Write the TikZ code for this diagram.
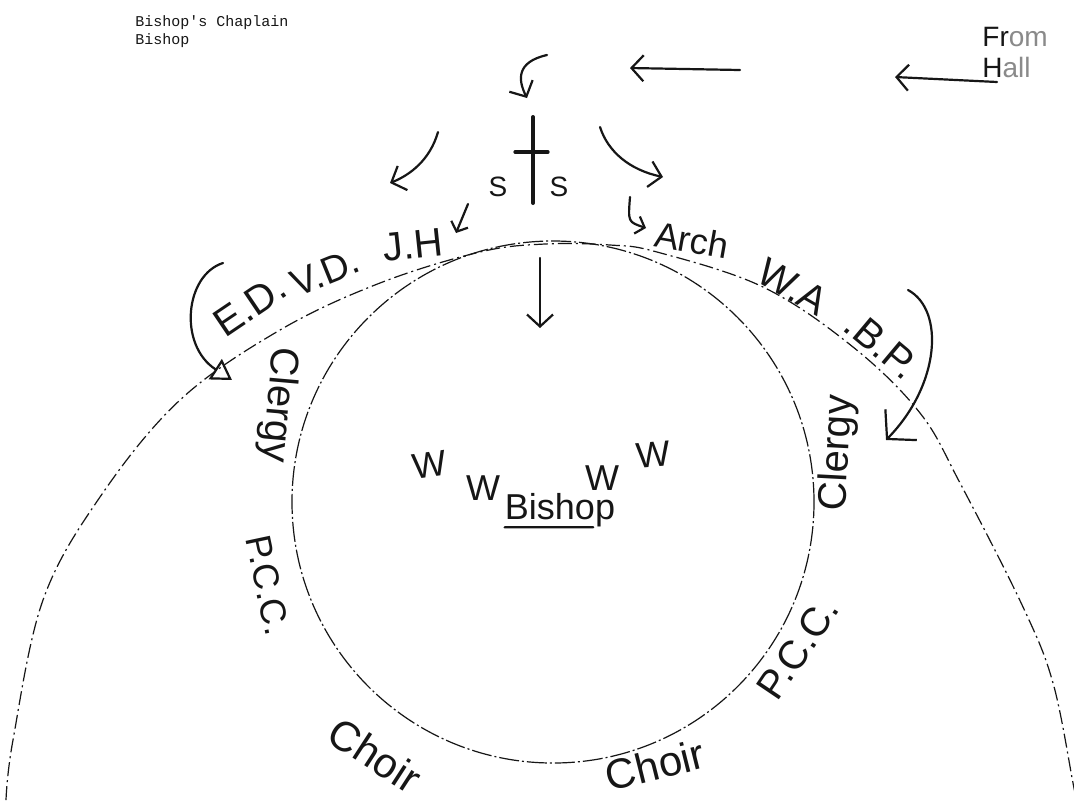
\documentclass[tikz,border=0pt]{standalone}
\usepackage{fontspec}
\setmainfont{Liberation Sans}
\newfontfamily\typerfont{Liberation Mono}
\usetikzlibrary{arrows.meta, positioning, calc}
\definecolor{ink}{HTML}{161616}
\definecolor{faint}{HTML}{8A8A8A}

\begin{document}
\begin{tikzpicture}[
  x=0.5pt, y=-0.5pt,
  >={Straight Barb[length=6pt, width=13pt]},
  pen/.style={line width=1.1pt, ink, line cap=round},
  arr/.style={->, pen},
]

% =============================================
% Styles -- hand lettering, typed lines, rings
% =============================================
\tikzset{
  hand/.style={font=\fontsize{#1}{#1}\selectfont, text=ink, inner sep=0pt},
  hand/.default=20,
  typed/.style={font=\typerfont\fontsize{7.5}{9}\selectfont, text=ink,
    inner sep=0pt, anchor=base west},
  ringline/.style={draw=ink, line width=0.6pt,
    dash pattern=on 10pt off 1.5pt on 1pt off 1.5pt},
  bigarr/.style={pen, -{Straight Barb[length=10pt, width=22pt]}},
}

% =============================================
% Page
% =============================================
\fill[white] (0,0) rectangle (1074,800);
\useasboundingbox (0,0) rectangle (1074,800);

% =============================================
% Typed heading
% =============================================
\node[typed] (chaplain) at (135,26) {Bishop's Chaplain};
\node[typed] (bishoptop) at (135,44) {Bishop};

% =============================================
% Coming in from the hall
% =============================================
\node[hand=14, anchor=west] (from) at (982,37) {Fr\textcolor{faint}{om}};
\node[hand=14, anchor=west] (hall) at (982,67) {H\textcolor{faint}{all}};

\coordinate (hall-tail) at (997,82);
\coordinate (hall-tip) at (895,77);
\draw[arr] (hall-tail) -- (hall-tip);

\coordinate (mid-tail) at (740,70);
\coordinate (mid-tip) at (630,68);
\draw[arr] (mid-tail) -- (mid-tip);

\coordinate (hook-tail) at (547,55);
\coordinate (hook-tip) at (527,98);
\draw[arr] (hook-tail) .. controls (516,62) and (518,80) .. (hook-tip);

% =============================================
% Cross with the two S
% =============================================
\draw[pen, line width=2pt] (533,117) -- (533,203);
\draw[pen, line width=1.6pt] (515,152) -- (548,152);
\node[hand=14] (sleft) at (498,187) {S};
\node[hand=14] (sright) at (559,187) {S};

% fanning out
\coordinate (fanl-tail) at (438,132);
\coordinate (fanl-tip) at (390,183);
\draw[arr] (fanl-tail) .. controls (430,160) and (410,175) .. (fanl-tip);

\coordinate (fanr-tail) at (600,127);
\coordinate (fanr-tip) at (663,177);
\draw[arr] (fanr-tail) .. controls (608,152) and (630,170) .. (fanr-tip);

\coordinate (jh-tail) at (468,204);
\coordinate (jh-tip) at (456,233);
\draw[->, pen, >={Straight Barb[length=4pt, width=9pt]}] (jh-tail) -- (jh-tip);

\coordinate (arch-tail) at (630,197);
\coordinate (arch-tip) at (646,228);
\draw[->, pen, >={Straight Barb[length=4pt, width=9pt]}]
  (arch-tail) .. controls (628,222) .. (arch-tip);

\coordinate (down-tail) at (540,258);
\coordinate (down-tip) at (540,328);
\draw[arr] (down-tail) -- (down-tip);

% =============================================
% Outer procession line
% =============================================
\draw[ringline, dash pattern=on 7pt off 2pt on 1pt off 2pt]
  plot[smooth, tension=0.6] coordinates {
    (6,800) (13,740) (43,600) (100,497) (180,400) (280,330) (380,283)
    (480,252) (545,244) (610,245) (657,252) (763,287) (853,347)
    (920,413) (960,483) (1023,607) (1053,683) (1073,783) (1076,800)};

\node[hand, rotate=34] (ed) at (250,305) {E.D.};
\node[hand=19, rotate=22] (vd) at (325,272) {V.D.};
\node[hand, rotate=6] (jh) at (413,245) {J.H};
\node[hand=18, rotate=-10] (arch) at (692,240) {Arch};
\node[hand, rotate=-30] (wa) at (793,287) {W.A};
\node[hand, rotate=-40] (bp) at (882,345) {.B.P.};

\coordinate (ed-tail) at (223,263);
\coordinate (ed-tip) at (232,380);
\draw[pen, -{Triangle[open, length=10pt, width=12pt]}]
  (ed-tail) .. controls (185,275) and (178,345) .. (ed-tip);

\coordinate (bp-tail) at (908,290);
\coordinate (bp-tip) at (886,440);
\draw[bigarr] (bp-tail) .. controls (945,310) and (940,385) .. (bp-tip);

% =============================================
% Inner ring
% =============================================
\node[ringline, circle, minimum size=261pt, inner sep=0pt] (ring) at (553,502) {};

\node[hand, rotate=-95] (clergyl) at (278,405) {Clergy};
\node[hand=18, rotate=-78] (pccl) at (268,585) {P.C.C.};
\node[hand=21, rotate=-33] (choirl) at (375,755) {Choir};
\node[hand=21, rotate=14] (choirr) at (655,765) {Choir};
\node[hand, rotate=56] (pccr) at (798,648) {P.C.C.};
\node[hand, rotate=87] (clergyr) at (838,453) {Clergy};

% =============================================
% Centre: the Bishop and the W's
% =============================================
\node[hand=18, rotate=8] (wa1) at (430,465) {W};
\node[hand=18] (wa2) at (483,488) {W};
\node[hand=18] (wa3) at (602,478) {W};
\node[hand=18, rotate=5] (wa4) at (653,455) {W};

\node[hand=18] (bishop) at (560,510) {Bishop};
\draw[pen] ($(bishop.base west)+(0,8)$) -- ($(bishop.base west)!0.8!(bishop.base east)+(0,8)$);

\end{tikzpicture}
\end{document}
